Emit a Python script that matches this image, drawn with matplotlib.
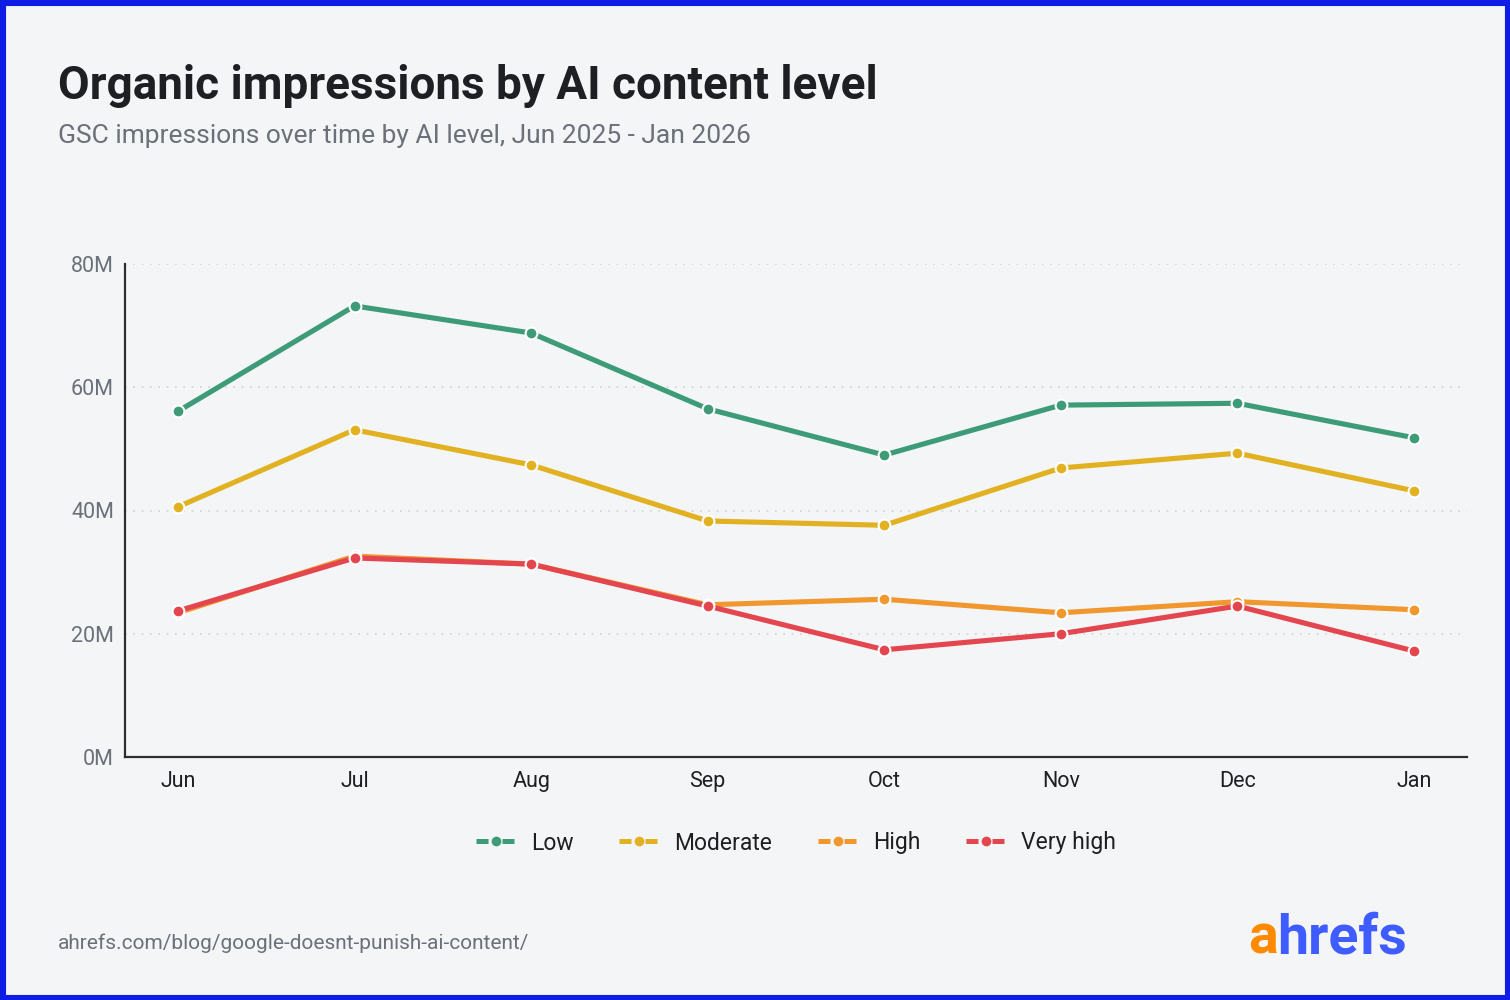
import matplotlib
matplotlib.use("Agg")
import matplotlib.pyplot as plt
from matplotlib.lines import Line2D
from matplotlib.patches import Rectangle
from matplotlib.ticker import FuncFormatter

# data (millions of impressions)
MONTHS = ["Jun", "Jul", "Aug", "Sep", "Oct", "Nov", "Dec", "Jan"]
LOW = [56.1, 73.2, 68.8, 56.5, 49.0, 57.1, 57.4, 51.8]
MODERATE = [40.6, 53.1, 47.4, 38.3, 37.6, 46.9, 49.3, 43.2]
HIGH = [23.4, 32.6, 31.3, 24.7, 25.6, 23.4, 25.2, 23.9]
VERY_HIGH = [23.7, 32.3, 31.3, 24.5, 17.4, 20.0, 24.5, 17.2]
SERIES_NAMES = ["Low", "Moderate", "High", "Very high"]
Y_TICKS = [0, 20, 40, 60, 80]

COLORS = ["#3d9b78", "#e2b122", "#f0982e", "#e4464f"]
BG = "#f3f5f7"
GREY = "#6b7079"
DARK = "#1e1f22"

plt.rcParams["font.family"] = ["Roboto", "DejaVu Sans"]

fig = plt.figure(figsize=(15.1, 10.0), dpi=100, facecolor=BG)
ax = fig.add_axes([0.0828, 0.243, 0.8887, 0.493])
ax.set_facecolor(BG)

x = list(range(len(MONTHS)))
all_series = [LOW, MODERATE, HIGH, VERY_HIGH]
for vals, color, name in zip(all_series, COLORS, SERIES_NAMES):
    ax.plot(x, vals, color=color, lw=3.7, marker="o", ms=8.5,
            mec="white", mew=1.5, solid_capstyle="round", zorder=3, label=name)

ax.set_xlim(-0.3, len(MONTHS) - 1 + 0.3)
ax.set_ylim(0, 80)
ax.set_xticks(x)
ax.set_xticklabels(MONTHS)
ax.set_yticks(Y_TICKS)
ax.yaxis.set_major_formatter(FuncFormatter(lambda v, _: f"{v:.0f}M"))

for t in Y_TICKS[1:]:
    ax.axhline(t, color="#cfd3d8", lw=1.2, ls=(0, (1, 4)), zorder=1)

for side in ["top", "right"]:
    ax.spines[side].set_visible(False)
for side in ["left", "bottom"]:
    ax.spines[side].set_color("#2b2d31")
    ax.spines[side].set_linewidth(1.6)

ax.tick_params(axis="both", length=0)
ax.tick_params(axis="y", labelsize=15.5, labelcolor=GREY, pad=8)
ax.tick_params(axis="x", labelsize=15.5, labelcolor=DARK, pad=10)

# legend handles: dash - dot - dash
handles = [
    Line2D([], [], color=c, lw=3.6, dashes=(2.4, 2.8), marker="o", ms=7,
           mec=c, mew=0)
    for c in COLORS
]
fig.legend(handles, SERIES_NAMES, loc="center", bbox_to_anchor=(0.527, 0.157),
           ncol=4, frameon=False, fontsize=16.5, handlelength=1.75,
           handletextpad=0.65, columnspacing=2.0, labelcolor=DARK)

fig.text(0.0384, 0.901, "Organic impressions by AI content level",
         fontsize=33, fontweight="bold", color=DARK, va="baseline")
fig.text(0.0384, 0.857, "GSC impressions over time by AI level, Jun 2025 - Jan 2026",
         fontsize=19, color=GREY, va="baseline")
fig.text(0.0384, 0.051, "ahrefs.com/blog/google-doesnt-punish-ai-content/",
         fontsize=15, color=GREY, va="baseline")

# ahrefs wordmark
fig.text(0.846, 0.047, "a", fontsize=40, fontweight="bold", color="#ff8a00",
         ha="right", va="baseline")
fig.text(0.846, 0.047, "hrefs", fontsize=40, fontweight="bold", color="#3e5cff",
         ha="left", va="baseline")

fig.patches.append(Rectangle((0, 0), 1, 1, transform=fig.transFigure,
                             fill=False, edgecolor="#0d1de4", lw=8))

fig.savefig("out.png", dpi=100, facecolor=BG)
